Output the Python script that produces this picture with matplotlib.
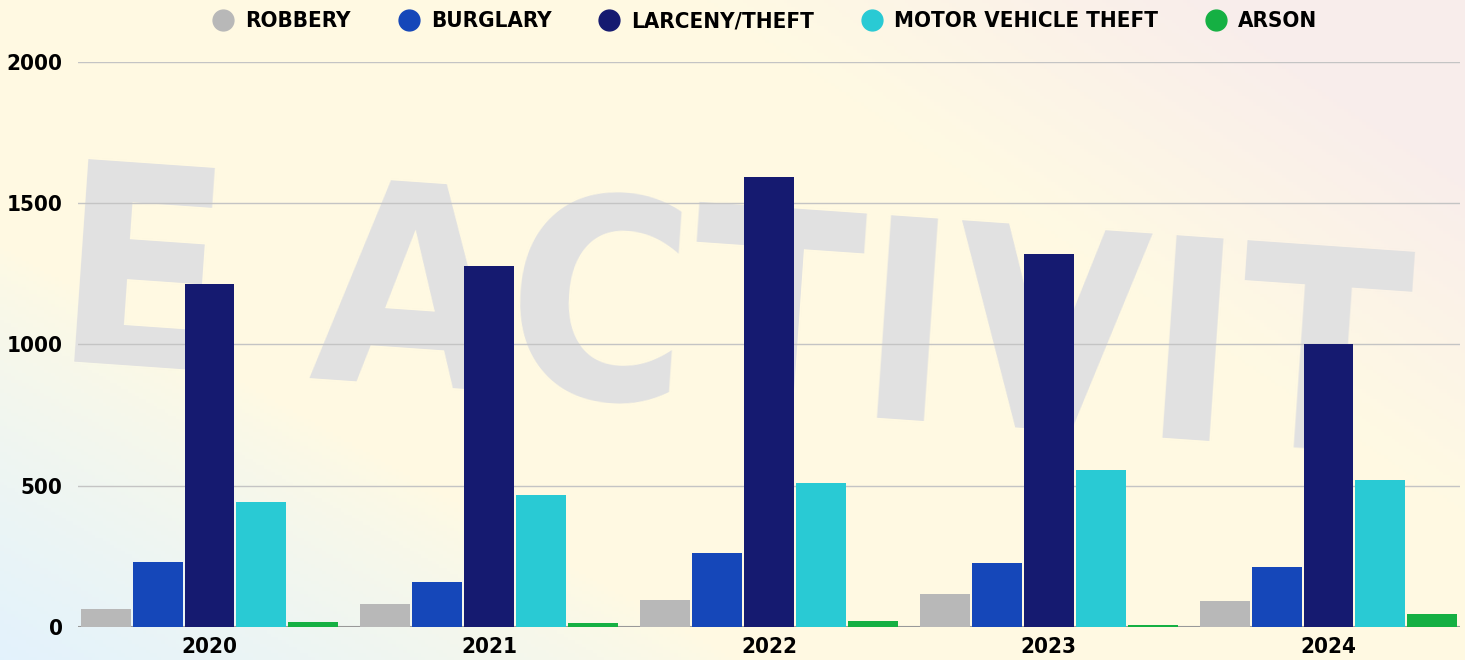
import numpy as np
import matplotlib.pyplot as plt
from matplotlib import font_manager

# data
years = ["2020", "2021", "2022", "2023", "2024"]
categories = ["ROBBERY", "BURGLARY", "LARCENY/THEFT", "MOTOR VEHICLE THEFT", "ARSON"]
robbery = [64, 81, 96, 117, 92]
burglary = [230, 159, 262, 227, 212]
larceny = [1214, 1278, 1593, 1320, 1002]
motor_vehicle = [442, 467, 510, 556, 520]
arson = [18, 14, 21, 8, 46]

series = [robbery, burglary, larceny, motor_vehicle, arson]
colors = ["#b8b8b8", "#1547b9", "#151a70", "#29cad4", "#15b043"]

# look for a condensed/narrow bold face, the reference uses one
narrow = None
for f in font_manager.fontManager.ttflist:
    nm = f.name.lower()
    if ("narrow" in nm or "condensed" in nm or "condensed" in str(f.stretch)) and f.weight in ("bold", 700):
        narrow = f.fname
        break


def font(size):
    if narrow:
        return font_manager.FontProperties(fname=narrow, size=size)
    return font_manager.FontProperties(family="Open Sans", weight="bold", size=size)


fig = plt.figure(figsize=(14.65, 6.6), dpi=100)

# background: cream with a bluish lower-left and pinkish upper-right
bg = fig.add_axes([0, 0, 1, 1], zorder=-10)
yy, xx = np.mgrid[0:1:200j, 0:1:400j]
cream = np.array([1.0, 0.98, 0.89])
blue = np.array([0.89, 0.95, 0.99])
pink = np.array([0.97, 0.92, 0.93])
wb = np.clip(1.0 - (xx * 2.0 + yy * 1.6), 0, 1) ** 0.8
wp = np.clip((xx - 0.75) * 3 + (yy - 0.6) * 2, 0, 1) * 0.8
img = cream * (1 - wb - wp)[..., None] + blue * wb[..., None] + pink * wp[..., None]
bg.imshow(np.clip(img, 0, 1), aspect="auto", extent=[0, 1, 0, 1], origin="lower")
bg.text(0.5, 0.5, "E ACTIVIT", fontproperties=font(200), color="#e1e1e1", ha="center",
        va="center", rotation=-4, transform=bg.transAxes)
bg.set_xlim(0, 1)
bg.set_ylim(0, 1)
bg.axis("off")

ax = fig.add_axes([78 / 1465, 33 / 660, 1382 / 1465, 565 / 660])
ax.patch.set_alpha(0)

x = np.arange(len(years))
step = 52 / 280
width = 50 / 280
for j, (vals, col, name) in enumerate(zip(series, colors, categories)):
    ax.bar(x + (j - 2) * step, vals, width=width, color=col, label=name, zorder=3)

ax.set_xlim(-0.47, 4.47)
ax.set_ylim(0, 2000)
ax.set_yticks([0, 500, 1000, 1500, 2000])
ax.set_xticks(x)
ax.set_xticklabels(years)
ax.grid(axis="y", color="#c4c4c4", linewidth=1, zorder=0)
ax.axhline(0, color="#999999", linewidth=1.5, zorder=2)
for s in ax.spines.values():
    s.set_visible(False)
ax.tick_params(axis="both", length=0, colors="black")
ax.tick_params(axis="y", pad=11)
ax.tick_params(axis="x", pad=7)
for lbl in ax.get_xticklabels() + ax.get_yticklabels():
    lbl.set_fontproperties(font(16))

handles = [plt.Line2D([], [], marker="o", linestyle="", markersize=15, color=c) for c in colors]
fig.legend(handles, categories, loc="upper center", bbox_to_anchor=(0.522, 1.013), ncol=5,
           frameon=False, prop=font(16), handlelength=1.0, handletextpad=0.5,
           columnspacing=2.1)

fig.savefig("out.png", dpi=100)
